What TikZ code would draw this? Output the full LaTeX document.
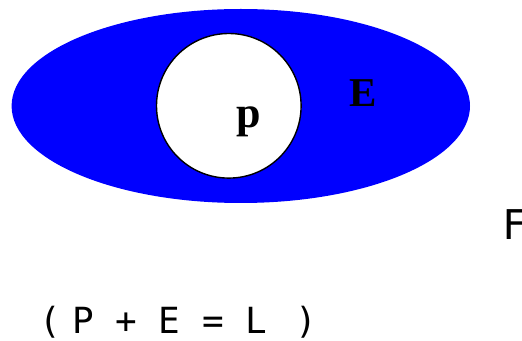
\documentclass[tikz,border=0pt]{standalone}
\usepackage{fontspec}
\setmainfont{Liberation Serif}
\newfontfamily\monof{DejaVu Sans Mono}
\begin{document}
\begin{tikzpicture}[x=1pt,y=1pt,
  lbl/.style={inner sep=0pt,outer sep=0pt,anchor=base west},
  serifbig/.style={lbl,font=\fontsize{41}{45}\selectfont\bfseries},
  monotext/.style={lbl,font=\monof\fontsize{36}{40}\selectfont}]
\useasboundingbox (0,0) rectangle (522,340);
\fill[blue] (240.8,234) ellipse [x radius=229.2, y radius=97];
\node[circle,draw=black,line width=1.4pt,fill=white,minimum size=144.6pt,inner sep=0pt] (pc) at (228.8,234.2) {};
\node[serifbig,font=\fontsize{44}{48}\selectfont\bfseries] (p) at (236,212) {p};
\node[serifbig] (E) at (349.5,233) {E};
\node[lbl,font=\monof\fontsize{41}{45}\selectfont] (F) at (502,100) {F};
\node[monotext] (eq) at (39.2,6) {(\hspace{11.4pt}P + E = L\hspace{27.8pt})};
\end{tikzpicture}
\end{document}
